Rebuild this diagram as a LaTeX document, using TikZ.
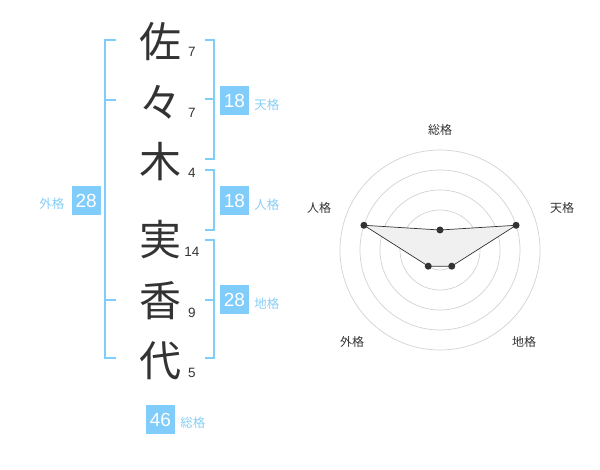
\documentclass[tikz,border=0pt]{standalone}
\usepackage{fontspec}
\setmainfont{Liberation Sans}
\newfontfamily\cjk{Noto Sans CJK JP}
\usetikzlibrary{positioning}

\definecolor{kakublue}{RGB}{128,204,250}
\definecolor{kakutext}{RGB}{136,206,246}
\definecolor{inkgray}{RGB}{51,51,51}
\definecolor{ringgray}{RGB}{210,210,210}
\definecolor{areagray}{RGB}{240,240,240}

\tikzset{
    namechar/.style={font=\cjk\fontsize{42}{42}\selectfont, text=inkgray, inner sep=0pt},
    strokes/.style={font=\fontsize{13.5}{13.5}\selectfont, text=inkgray, inner sep=0pt},
    kakubox/.style={fill=kakublue, text=white, minimum width=29pt, minimum height=29pt, inner sep=0pt, font=\fontsize{19}{19}\selectfont},
    kakuname/.style={font=\cjk\fontsize{12.5}{12.5}\selectfont, text=kakutext, inner sep=0pt},
    bracket/.style={draw=kakublue, line width=2pt},
    ring/.style={draw=ringgray, line width=0.7pt},
    axisname/.style={font=\cjk\fontsize{12}{12}\selectfont, text=inkgray, inner sep=0pt},
    dot/.style={circle, fill=inkgray, inner sep=0pt, minimum size=7pt}
}

\begin{document}
\begin{tikzpicture}[x=1pt, y=-1pt]
    \useasboundingbox (0,0) rectangle (600,470);

    % name characters and stroke counts
    \node[namechar] (c1) at (160,42) {佐};
    \node[namechar] (c2) at (160,102) {々};
    \node[namechar] (c3) at (160,162) {木};
    \node[namechar] (c4) at (160,240) {実};
    \node[namechar] (c5) at (160,301) {香};
    \node[namechar] (c6) at (160,361) {代};
    \node[strokes] (s1) at (192,52) {7};
    \node[strokes] (s2) at (192,113) {7};
    \node[strokes] (s3) at (192,173) {4};
    \node[strokes] (s4) at (192,252) {14};
    \node[strokes] (s5) at (192,313) {9};
    \node[strokes] (s6) at (192,373) {5};

    % brackets
    \draw[bracket] (116,40) -- (105,40) -- (105,358) -- (116,358);
    \draw[bracket] (105,100) -- (116,100);
    \draw[bracket] (105,300) -- (116,300);
    \draw[bracket] (205,40) -- (214,40) -- (214,159) -- (205,159);
    \draw[bracket] (205,99.5) -- (214,99.5);
    \draw[bracket] (205,170) -- (214,170) -- (214,230) -- (205,230);
    \draw[bracket] (205,240) -- (214,240) -- (214,358) -- (205,358);
    \draw[bracket] (205,300) -- (214,300);

    % fortune boxes
    \node[kakubox] (ten) at (234.5,100.5) {18};
    \node[kakuname, right=5pt of ten, yshift=-4pt] (tenlbl) {天格};
    \node[kakubox] (jin) at (234.5,200.5) {18};
    \node[kakuname, right=5pt of jin, yshift=-4pt] (jinlbl) {人格};
    \node[kakubox] (chi) at (234.5,300) {28};
    \node[kakuname, right=5pt of chi, yshift=-4pt] (chilbl) {地格};
    \node[kakubox] (gai) at (86.2,200.5) {28};
    \node[kakuname, left=7pt of gai, yshift=-3pt] (gailbl) {外格};
    \node[kakubox] (sou) at (160.5,419.5) {46};
    \node[kakuname, right=5pt of sou, yshift=-3pt] (soulbl) {総格};

    % radar chart
    \begin{scope}[shift={(440,250)}]
        \foreach \r in {20,40,60,80,100}
            \draw[ring] (0,0) circle[radius=\r];
        \fill[ringgray] (0,0) circle[radius=3];
        \coordinate (psou) at (-90:20);
        \coordinate (pten) at (-18:80);
        \coordinate (pchi) at (54:20);
        \coordinate (pgai) at (126:20);
        \coordinate (pjin) at (-162:80);
        \draw[fill=areagray, draw=inkgray, line width=0.7pt]
            (psou) -- (pten) -- (pchi) -- (pgai) -- (pjin) -- cycle;
        \foreach \p in {psou,pten,pchi,pgai,pjin}
            \node[dot] at (\p) {};
    \end{scope}
    \node[axisname] (asou) at (440,130) {総格};
    \node[axisname] (aten) at (562,208) {天格};
    \node[axisname] (achi) at (524,342) {地格};
    \node[axisname] (agai) at (352,342) {外格};
    \node[axisname] (ajin) at (319,208) {人格};
\end{tikzpicture}
\end{document}
